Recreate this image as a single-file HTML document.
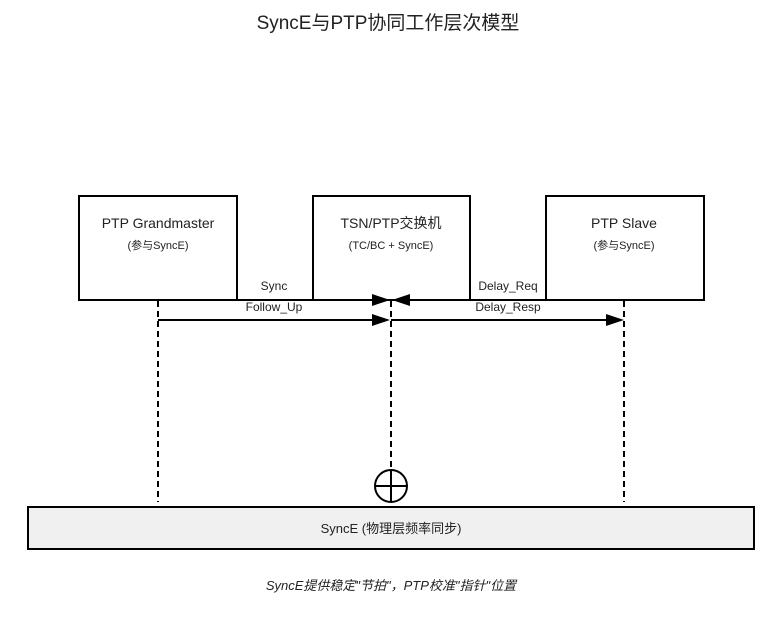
<!DOCTYPE html>
<html><head><meta charset="utf-8"><style>
body{margin:0;background:#fff;}
svg text{font-family:"Liberation Sans","Noto Sans CJK SC",sans-serif;fill:#222;}
</style></head><body>
<svg width="776" height="615" viewBox="0 0 776 615" xmlns="http://www.w3.org/2000/svg">
<text x="388" y="29" font-size="19" text-anchor="middle">SyncE与PTP协同工作层次模型</text>
<g fill="#fff" stroke="#000" stroke-width="2">
<rect x="79" y="196" width="158" height="104"/>
<rect x="313" y="196" width="157" height="104"/>
<rect x="546" y="196" width="158" height="104"/>
</g>
<line x1="237" y1="300" x2="313" y2="300" stroke="#000" stroke-width="2"/>
<line x1="470" y1="300" x2="546" y2="300" stroke="#000" stroke-width="2"/>
<text x="158" y="228" font-size="14" text-anchor="middle">PTP Grandmaster</text>
<text x="158" y="249" font-size="11" text-anchor="middle">(参与SyncE)</text>
<text x="391" y="228" font-size="14" text-anchor="middle">TSN/PTP交换机</text>
<text x="391" y="249" font-size="11" text-anchor="middle">(TC/BC + SyncE)</text>
<text x="624" y="228" font-size="14" text-anchor="middle">PTP Slave</text>
<text x="624" y="249" font-size="11" text-anchor="middle">(参与SyncE)</text>
<text x="274" y="290" font-size="12" text-anchor="middle">Sync</text>
<text x="274" y="311" font-size="12" text-anchor="middle">Follow_Up</text>
<text x="508" y="290" font-size="12" text-anchor="middle">Delay_Req</text>
<text x="508" y="311" font-size="12" text-anchor="middle">Delay_Resp</text>
<g stroke="#000" stroke-width="2" stroke-dasharray="6,4">
<line x1="158" y1="301" x2="158" y2="502"/>
<line x1="391" y1="301" x2="391" y2="470"/>
<line x1="624" y1="301" x2="624" y2="502"/>
</g>
<polygon points="372,294 390,300 372,306" fill="#000"/>
<polygon points="410,294 392,300 410,306" fill="#000"/>
<line x1="158" y1="320" x2="374" y2="320" stroke="#000" stroke-width="2"/>
<polygon points="372,314 390,320 372,326" fill="#000"/>
<line x1="391" y1="320" x2="608" y2="320" stroke="#000" stroke-width="2"/>
<polygon points="606,314 624,320 606,326" fill="#000"/>
<circle cx="391" cy="486" r="16" fill="#fff" stroke="#000" stroke-width="2"/>
<line x1="391" y1="470" x2="391" y2="502" stroke="#000" stroke-width="2"/>
<line x1="375" y1="486" x2="407" y2="486" stroke="#000" stroke-width="2"/>
<rect x="28" y="507" width="726" height="42" fill="#f0f0f0" stroke="#000" stroke-width="2"/>
<text x="391" y="533" font-size="13" text-anchor="middle">SyncE (物理层频率同步)</text>
<text x="391" y="590" font-size="13" font-style="italic" text-anchor="middle">SyncE提供稳定"节拍"，PTP校准"指针"位置</text>
</svg>
</body></html>
